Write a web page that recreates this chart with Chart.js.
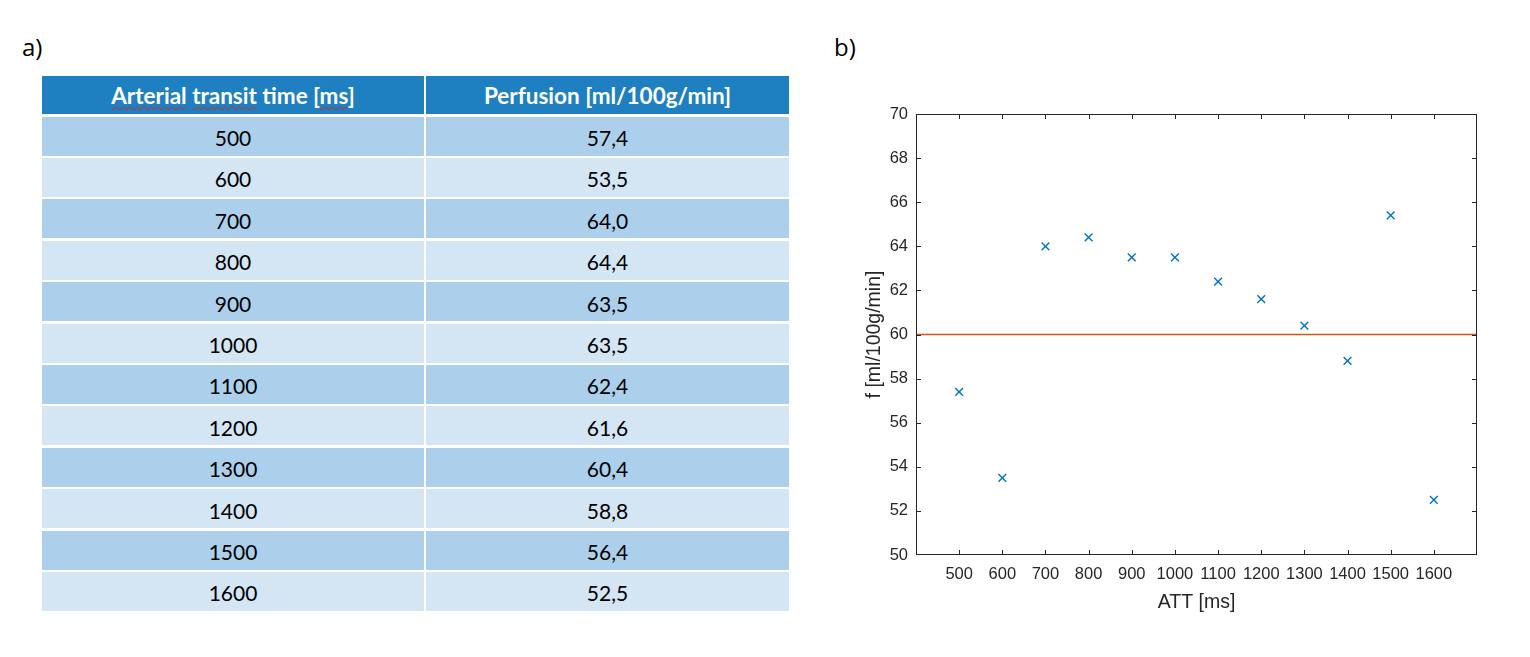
<!DOCTYPE html>
<html>
<head>
<meta charset="utf-8">
<script src="https://cdn.jsdelivr.net/npm/chart.js@4.4.0/dist/chart.umd.min.js"></script>
<style>
  body { margin: 0; background: #fff; width: 1530px; height: 657px; position: relative; overflow: hidden; font-family: Lato, "Open Sans", sans-serif; }
  .panel-label { position: absolute; font-size: 24px; color: #000; font-family: "Open Sans", Lato, sans-serif; }
  #tbl { position: absolute; left: 42px; top: 76px; width: 747px; }
  .row { display: flex; height: 39px; margin-top: 2.4px; }
  .row.head { height: 38px; margin-top: 0; margin-bottom: 2.6px; }
  .cell { display: flex; align-items: center; justify-content: center; font-size: 21px; color: #000; padding-top: 3px; box-sizing: border-box; }
  .cell:first-child { width: 382px; margin-right: 2px; }
  .cell:last-child { flex: 1; }
  .head .cell { background: #1f80c1; color: #fff; font-weight: bold; font-size: 22.5px; padding-top: 0; }
  .dark .cell { background: #acd0eb; }
  .light .cell { background: #d4e5f4; }
  .spell { text-decoration: underline wavy #e02020; text-decoration-thickness: 1px; text-underline-offset: 2px; }
  #chartBox { position: absolute; left: 840px; top: 100px; width: 660px; height: 530px; }
</style>
</head>
<body>
<div class="panel-label" style="left:22px; top:30px;">a)</div>
<div class="panel-label" style="left:834px; top:30px;">b)</div>

<div id="tbl"></div>

<div id="chartBox"><canvas id="scatterChart"></canvas></div>

<script>
// table data (as printed in panel a)
var attTimes = [500, 600, 700, 800, 900, 1000, 1100, 1200, 1300, 1400, 1500, 1600];
var tablePerfusion = ['57,4', '53,5', '64,0', '64,4', '63,5', '63,5', '62,4', '61,6', '60,4', '58,8', '56,4', '52,5'];

// plotted values
var plotPerfusion = [57.4, 53.5, 64.0, 64.4, 63.5, 63.5, 62.4, 61.6, 60.4, 58.8, 65.4, 52.5];
var threshold = 60;
var xRange = [400, 1700];
var yRange = [50, 70];

// build table
var tbl = document.getElementById('tbl');
var html = '<div class="row head"><div class="cell"><span><span class="spell">Arterial</span> <span class="spell">transit</span> time [<span class="spell">ms</span>]</span></div>' +
           '<div class="cell">Perfusion [ml/100g/min]</div></div>';
for (var i = 0; i < attTimes.length; i++) {
    html += '<div class="row ' + (i % 2 === 0 ? 'dark' : 'light') + '"><div class="cell">' + attTimes[i] +
            '</div><div class="cell">' + tablePerfusion[i] + '</div></div>';
}
tbl.innerHTML = html;

// box + inward ticks like a matlab axes
var boxPlugin = {
    id: 'boxPlugin',
    afterDraw: function(chart) {
        var ctx = chart.ctx, a = chart.chartArea;
        var xs = chart.scales.x, ys = chart.scales.y;
        var len = 5;
        ctx.save();
        ctx.strokeStyle = '#262626';
        ctx.lineWidth = 1;
        ctx.strokeRect(a.left + 0.5, a.top + 0.5, a.right - a.left - 1, a.bottom - a.top - 1);
        ctx.beginPath();
        xs.ticks.forEach(function(t) {
            if (t.value <= xRange[0] || t.value >= xRange[1]) return;
            var px = Math.round(xs.getPixelForValue(t.value)) + 0.5;
            ctx.moveTo(px, a.bottom); ctx.lineTo(px, a.bottom - len);
            ctx.moveTo(px, a.top); ctx.lineTo(px, a.top + len);
        });
        ys.ticks.forEach(function(t) {
            if (t.value <= yRange[0] || t.value >= yRange[1]) return;
            var py = Math.round(ys.getPixelForValue(t.value)) + 0.5;
            ctx.moveTo(a.left, py); ctx.lineTo(a.left + len, py);
            ctx.moveTo(a.right, py); ctx.lineTo(a.right - len, py);
        });
        ctx.stroke();
        ctx.restore();
    }
};

var points = attTimes.map(function(t, i) { return { x: t, y: plotPerfusion[i] }; });

var ctx = document.getElementById('scatterChart').getContext('2d');
var scatterChart = new Chart(ctx, {
    type: 'scatter',
    data: {
        datasets: [{
            label: 'f',
            data: points,
            pointStyle: 'crossRot',
            pointRadius: 5.5,
            pointBorderWidth: 1.4,
            borderColor: '#0072bd',
            backgroundColor: '#0072bd'
        }, {
            type: 'line',
            label: 'threshold',
            data: [{ x: xRange[0], y: threshold }, { x: xRange[1], y: threshold }],
            borderColor: '#d95319',
            borderWidth: 1.5,
            pointRadius: 0,
            fill: false
        }]
    },
    plugins: [boxPlugin],
    options: {
        responsive: true,
        maintainAspectRatio: false,
        animation: false,
        layout: { padding: { top: 14, right: 23, left: 0, bottom: 0 } },
        plugins: { legend: { display: false }, tooltip: { enabled: false } },
        scales: {
            x: {
                type: 'linear',
                min: xRange[0],
                max: xRange[1],
                grid: { display: false },
                border: { display: false },
                ticks: {
                    stepSize: 100,
                    padding: 2,
                    color: '#262626',
                    font: { family: 'Liberation Sans', size: 16.5 },
                    maxRotation: 0,
                    autoSkip: false,
                    callback: function(v) { return (v <= xRange[0] || v >= xRange[1]) ? '' : v; }
                },
                title: { display: true, text: 'ATT [ms]', color: '#262626', font: { family: 'Liberation Sans', size: 19.5 }, padding: { top: 0, bottom: 16 } },
                afterFit: function(s) { s.height = 75; }
            },
            y: {
                min: yRange[0],
                max: yRange[1],
                grid: { display: false },
                border: { display: false },
                ticks: {
                    stepSize: 2,
                    padding: 0,
                    color: '#262626',
                    font: { family: 'Liberation Sans', size: 16.5 }
                },
                title: { display: true, text: 'f [ml/100g/min]', color: '#262626', font: { family: 'Liberation Sans', size: 19.5 }, padding: { top: 23, bottom: 0 } },
                afterFit: function(s) { s.width = 76; }
            }
        }
    }
});
</script>
</body>
</html>
